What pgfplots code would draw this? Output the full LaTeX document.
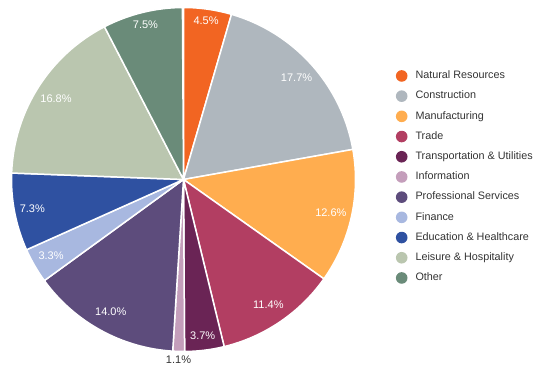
\documentclass[border=0pt]{standalone}
\usepackage{pgfplots}
\pgfplotsset{compat=1.18}
\usepackage{pgfplotstable}
\usepackage{fontspec}
\setmainfont{Liberation Sans}
\definecolor{cNR}{HTML}{F26522}
\definecolor{cCO}{HTML}{AFB7BE}
\definecolor{cMA}{HTML}{FFAD4F}
\definecolor{cTR}{HTML}{B23E62}
\definecolor{cTU}{HTML}{6A2455}
\definecolor{cIN}{HTML}{C49EBB}
\definecolor{cPS}{HTML}{5D4C7C}
\definecolor{cFI}{HTML}{A8B8E0}
\definecolor{cED}{HTML}{2F51A1}
\definecolor{cLH}{HTML}{BAC6AF}
\definecolor{cOT}{HTML}{6A8B79}
\definecolor{ctext}{HTML}{333333}
\pgfplotstableread{
value color lr sty
4.5  cNR 160 lin
17.7 cCO 152 lin
12.6 cMA 151 lin
11.4 cTR 151 lin
3.7  cTU 157 lin
1.1  cIN 176 lout
14.0 cPS 151 lin
3.3  cFI 153 lin
7.3  cED 154 lin
16.8 cLH 151 lin
7.5  cOT 159 lin
}\pietable
\tikzset{
  lin/.style={text=white, font=\fontsize{11}{13}\selectfont, inner sep=0pt},
  lout/.style={text=ctext, font=\fontsize{11}{13}\selectfont, inner sep=0pt, anchor=north},
}
\begin{document}
\begin{tikzpicture}
\begin{axis}[
  scale only axis, width=537pt, height=378pt,
  xmin=0, xmax=537, ymin=0, ymax=378,
  hide axis, clip=false,
  legend style={at={(axis cs:392.7,310.5)}, anchor=north west, draw=none, fill=none,
    font=\fontsize{10.8}{13}\selectfont, text=ctext, row sep=7.7pt,
    nodes={inner sep=1pt, text height=8pt, text depth=2.5pt},
    /tikz/every odd column/.append style={column sep=7pt}},
  legend cell align=left,
  legend image code/.code={\fill[#1, draw=none] (0pt,0pt) circle (5.8pt);},
]
\def\cum{0}
\pgfplotsforeachungrouped \i in {0,...,10}{%
  \pgfplotstablegetelem{\i}{value}\of\pietable \let\v\pgfplotsretval
  \pgfplotstablegetelem{\i}{color}\of\pietable \let\c\pgfplotsretval
  \pgfplotstablegetelem{\i}{lr}\of\pietable \let\r\pgfplotsretval
  \pgfplotstablegetelem{\i}{sty}\of\pietable \let\s\pgfplotsretval
  \pgfmathsetmacro\a{90-3.6*\cum}%
  \pgfmathsetmacro\b{90-3.6*(\cum+\v)}%
  \pgfmathsetmacro\m{(\a+\b)/2}%
  \edef\temp{%
    \noexpand\fill[fill=\c, draw=white, line width=1.5pt, line join=round]
      (axis cs:183.5,198.5) -- ([shift={(\a:172pt)}]axis cs:183.5,198.5)
      arc[start angle=\a, end angle=\b, radius=172pt] -- cycle;
    \noexpand\node[\s] at ([shift={(\m:\r pt)}]axis cs:183.5,198.5) {\v\noexpand\%};
  }%
  \temp
  \pgfmathsetmacro\cum{\cum+\v}%
}
\addlegendimage{fill=cNR}
\addlegendimage{fill=cCO}
\addlegendimage{fill=cMA}
\addlegendimage{fill=cTR}
\addlegendimage{fill=cTU}
\addlegendimage{fill=cIN}
\addlegendimage{fill=cPS}
\addlegendimage{fill=cFI}
\addlegendimage{fill=cED}
\addlegendimage{fill=cLH}
\addlegendimage{fill=cOT}
\legend{Natural Resources, Construction, Manufacturing, Trade, Transportation \& Utilities, Information, Professional Services, Finance, Education \& Healthcare, Leisure \& Hospitality, Other}
\end{axis}
\pgfresetboundingbox
\path[use as bounding box] (0,0) rectangle (537pt,378pt);
\end{tikzpicture}
\end{document}
